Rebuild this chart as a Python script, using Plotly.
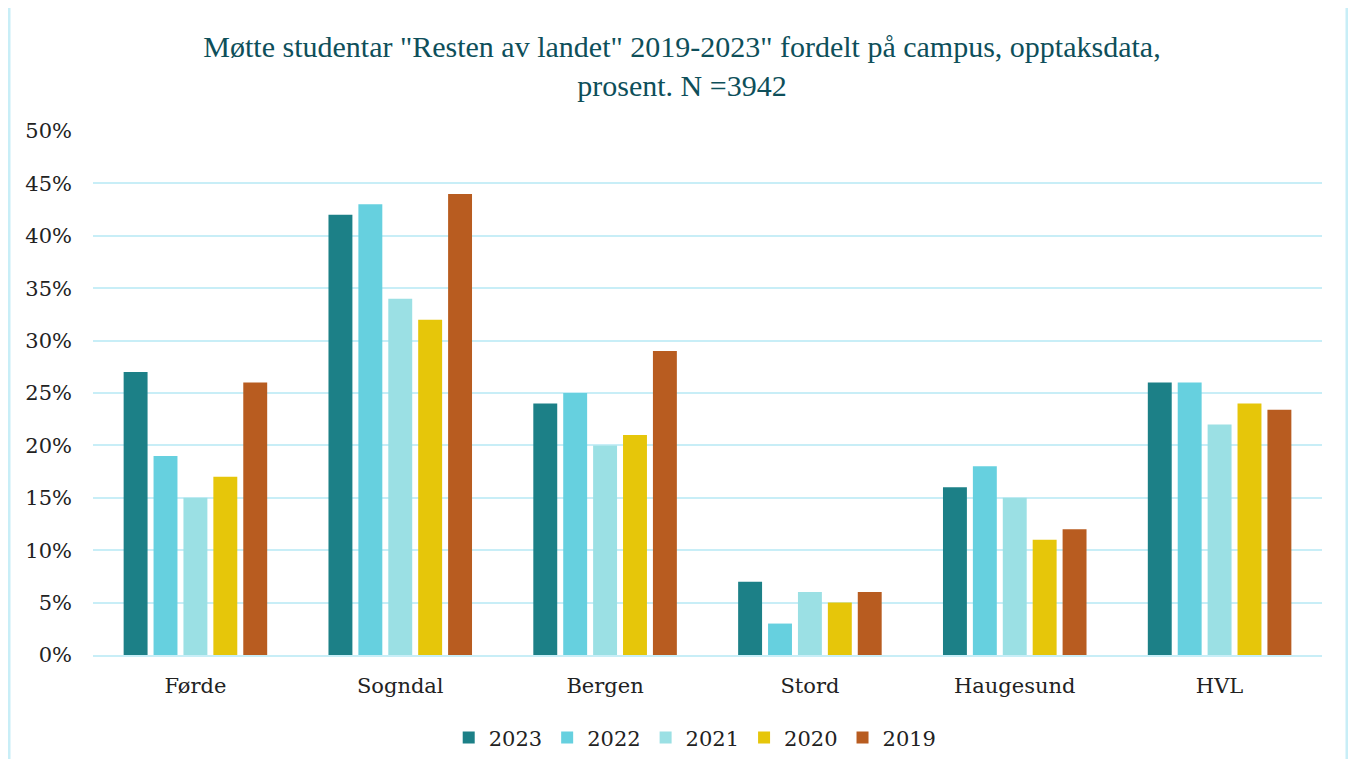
import plotly.graph_objects as go

campus = ["Førde", "Sogndal", "Bergen", "Stord", "Haugesund", "HVL"]
years = ["2023", "2022", "2021", "2020", "2019"]
v2023 = [27, 42, 24, 7, 16, 26]
v2022 = [19, 43, 25, 3, 18, 26]
v2021 = [15, 34, 20, 6, 15, 22]
v2020 = [17, 32, 21, 5, 11, 24]
v2019 = [26, 44, 29, 6, 12, 23.4]
series = [v2023, v2022, v2021, v2020, v2019]
colors = ["#1C8087", "#66D0DF", "#9BE0E4", "#E6C60A", "#B85C20"]

fig = go.Figure()
for y, vals, c in zip(years, series, colors):
    fig.add_trace(go.Bar(x=campus, y=vals, name=y, marker_color=c,
                         marker_line_width=0))

serif = "DejaVu Serif, Georgia, serif"
title_font = "Liberation Serif, Georgia, serif"
W, H = 1340, 751
L, R, T, B = 85, 26, 123, 104
PW = W - L - R
PH = H - T - B
fig.update_layout(
    width=W, height=H,
    paper_bgcolor="white", plot_bgcolor="white",
    margin=dict(l=L, r=R, t=T, b=B, autoexpand=False),
    title=dict(text='Møtte studentar "Resten av landet" 2019-2023" fordelt på campus, opptaksdata,<br>prosent. N =3942',
               x=0.5 * 1348 / W, xanchor="center", y=1 - 48.5 / H, yanchor="middle",
               font=dict(family=title_font, size=30, color="#0E4F5A")),
    barmode="group", bargap=0.27, bargroupgap=0.2,
    font=dict(family=serif, size=20, color="#222222"),
    legend=dict(orientation="h", x=0.49, xanchor="center", y=-0.158, yanchor="middle",
                font=dict(size=21), traceorder="normal"),
    yaxis=dict(range=[0, 50], dtick=5, ticksuffix="%", showgrid=True,
               gridcolor="#C8EEF7", gridwidth=2, zeroline=False,
               tickfont=dict(size=21), ticklabelstandoff=20, automargin=False),
    xaxis=dict(showline=True, linecolor="#C8EEF7", linewidth=2,
               tickfont=dict(size=21), ticks="", automargin=False,
               ticklabelstandoff=11),
    shapes=[
        dict(type="line", xref="paper", yref="paper",
             x0=-(L - 1) / PW, x1=-(L - 1) / PW, y0=-B / PH, y1=1 + T / PH,
             line=dict(color="#C8EEF7", width=3), layer="below"),
        dict(type="line", xref="paper", yref="paper",
             x0=1 + (R - 1) / PW, x1=1 + (R - 1) / PW, y0=-B / PH, y1=1 + T / PH,
             line=dict(color="#C8EEF7", width=3), layer="below"),
    ],
)
fig.write_html("out.html")
